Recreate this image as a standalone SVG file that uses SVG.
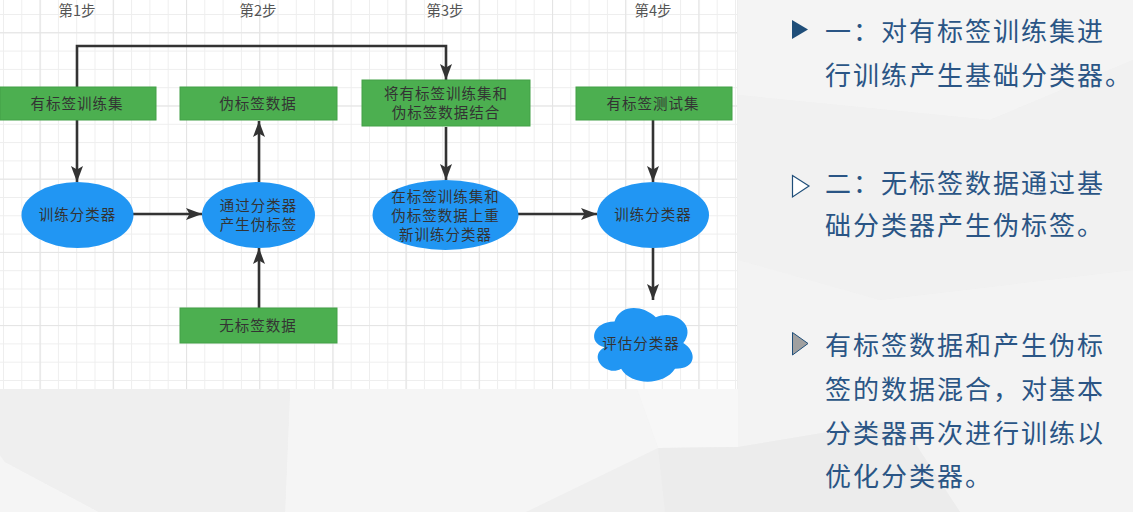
<svg xmlns="http://www.w3.org/2000/svg" width="1133" height="512" viewBox="0 0 1133 512">
<style>
.step{font-family:"Noto Sans CJK SC","Liberation Sans",sans-serif;font-size:14.5px;fill:#555;text-anchor:middle}
.lbl{font-family:"Noto Sans CJK SC","Liberation Sans",sans-serif;font-size:14.5px;fill:#333;text-anchor:middle;letter-spacing:1px}
.box{fill:#4caf50;stroke:#43a047;stroke-width:1}
.oval{fill:#2196f3}
.conn{fill:none;stroke:#333;stroke-width:2.6;marker-end:url(#arr)}
.side{font-family:"Noto Sans CJK SC","Liberation Sans",sans-serif;font-size:26px;fill:#2a5585;letter-spacing:2px}
</style>
<defs>
<pattern id="minor" patternUnits="userSpaceOnUse" x="3" y="14" width="18.3" height="18.3">
<path d="M0.5 0V18.3M0 0.5H18.3" stroke="#eeeeee" stroke-width="1" fill="none"/>
</pattern>
<pattern id="major" patternUnits="userSpaceOnUse" x="39.6" y="32.3" width="73.2" height="73.2">
<path d="M0.5 0V73.2M0 0.5H73.2" stroke="#e4e4e4" stroke-width="1.2" fill="none"/>
</pattern>
<marker id="arr" markerUnits="userSpaceOnUse" markerWidth="17" markerHeight="13" refX="16" refY="6.5" orient="auto">
<path d="M0,0.5 L16,6.5 L0,12.5 L3.5,6.5 Z" fill="#333"/>
</marker>
</defs>
<!-- background -->
<rect x="0" y="0" width="1133" height="512" fill="#efefef"/>
<g id="facets">
<polygon points="738,0 1133,0 1133,60 990,120 738,95" fill="#f4f4f4"/>
<polygon points="738,95 990,120 1133,60 1133,270 880,300 738,260" fill="#f1f1f1"/>
<polygon points="738,260 880,300 1133,270 1133,512 960,512 900,420 738,447" fill="#f3f3f3"/>
<polygon points="290,389 637,389 658,448 526,512 285,512" fill="#f5f5f5"/>
<polygon points="637,389 738,389 738,447 658,448" fill="#f7f7f7"/>
<polygon points="658,448 738,447 900,420 960,512 665,512" fill="#ececec"/>
<polygon points="0,455 5,462 99,512 0,512" fill="#f5f5f5"/>
<polygon points="0,389 290,389 285,512 99,512 5,462 0,455" fill="#efefef"/>
</g>
<!-- grid panel -->
<rect x="0" y="0" width="737" height="389" fill="#ffffff"/>
<rect x="0" y="0" width="737" height="389" fill="url(#minor)"/>
<rect x="0" y="0" width="737" height="389" fill="url(#major)"/>
<!-- step labels -->
<g id="steps">
<text class="step" x="77" y="16">第1步</text>
<text class="step" x="258" y="16">第2步</text>
<text class="step" x="445" y="16">第3步</text>
<text class="step" x="653" y="16">第4步</text>
</g>
<!-- connectors -->
<g id="connectors">
<path class="conn" d="M77,87 V46 H446 V80"/>
<path class="conn" d="M77,120 V182"/>
<path class="conn" d="M133,214 H202"/>
<path class="conn" d="M259,182 V121"/>
<path class="conn" d="M259,308 V248"/>
<path class="conn" d="M446,127 V180"/>
<path class="conn" d="M518,214 H597"/>
<path class="conn" d="M653,120 V182"/>
<path class="conn" d="M653,248 V300"/>
</g>
<!-- nodes -->
<g id="n-labeled-train">
<rect class="box" x="0" y="87" width="156" height="33"/>
<text class="lbl" x="77" y="109">有标签训练集</text>
</g>
<g id="n-pseudo">
<rect class="box" x="180" y="87" width="157" height="33"/>
<text class="lbl" x="258" y="109">伪标签数据</text>
</g>
<g id="n-combine">
<rect class="box" x="362" y="80" width="168" height="46"/>
<text class="lbl" x="446" y="99">将有标签训练集和</text>
<text class="lbl" x="446" y="118">伪标签数据结合</text>
</g>
<g id="n-labeled-test">
<rect class="box" x="576" y="87" width="156" height="33"/>
<text class="lbl" x="653" y="109">有标签测试集</text>
</g>
<g id="n-unlabeled">
<rect class="box" x="180" y="308" width="157" height="35"/>
<text class="lbl" x="258" y="331">无标签数据</text>
</g>
<g id="n-train1">
<ellipse class="oval" cx="77.5" cy="215" rx="56" ry="33"/>
<text class="lbl" x="77.5" y="220">训练分类器</text>
</g>
<g id="n-gen">
<ellipse class="oval" cx="258.5" cy="215" rx="56.5" ry="33"/>
<text class="lbl" x="258.5" y="211">通过分类器</text>
<text class="lbl" x="258.5" y="230">产生伪标签</text>
</g>
<g id="n-retrain">
<ellipse class="oval" cx="445.5" cy="215" rx="73" ry="35"/>
<text class="lbl" x="445.5" y="202">在标签训练集和</text>
<text class="lbl" x="445.5" y="221">伪标签数据上重</text>
<text class="lbl" x="445.5" y="240">新训练分类器</text>
</g>
<g id="n-train2">
<ellipse class="oval" cx="653" cy="215" rx="56" ry="33"/>
<text class="lbl" x="653" y="220">训练分类器</text>
</g>
<g id="n-eval">
<path class="oval" d="M614.5,321.5 C592.5,321.5 587,343 604.6,347.3 C587,356.8 606.8,377.4 621.1,368.8 C631,386 664,386 675,368.8 C697,368.8 697,351.6 683.3,343 C697,325.8 675,308.6 655.8,317.2 C642,304.3 620,304.3 614.5,321.5 Z"/>
<text class="lbl" x="641" y="349">评估分类器</text>
</g>
<!-- side text -->
<g id="side">
<polygon points="792,20 808,29.5 792,39" fill="#1f4e79"/>
<text class="side" x="825" y="41">一：对有标签训练集进</text>
<text class="side" x="825" y="85">行训练产生基础分类器。</text>
<polygon points="792.5,175.5 809,186 792.5,197" fill="#ffffff" stroke="#1f4e79" stroke-width="1.2"/>
<text class="side" x="825" y="193">二：无标签数据通过基</text>
<text class="side" x="825" y="235">础分类器产生伪标签。</text>
<polygon points="792.5,332.5 808,343.5 792.5,355" fill="#a0a0a0" stroke="#1f4e79" stroke-width="1"/>
<text class="side" x="825" y="355">有标签数据和产生伪标</text>
<text class="side" x="825" y="399">签的数据混合，对基本</text>
<text class="side" x="825" y="443">分类器再次进行训练以</text>
<text class="side" x="825" y="486">优化分类器。</text>
</g>
</svg>
